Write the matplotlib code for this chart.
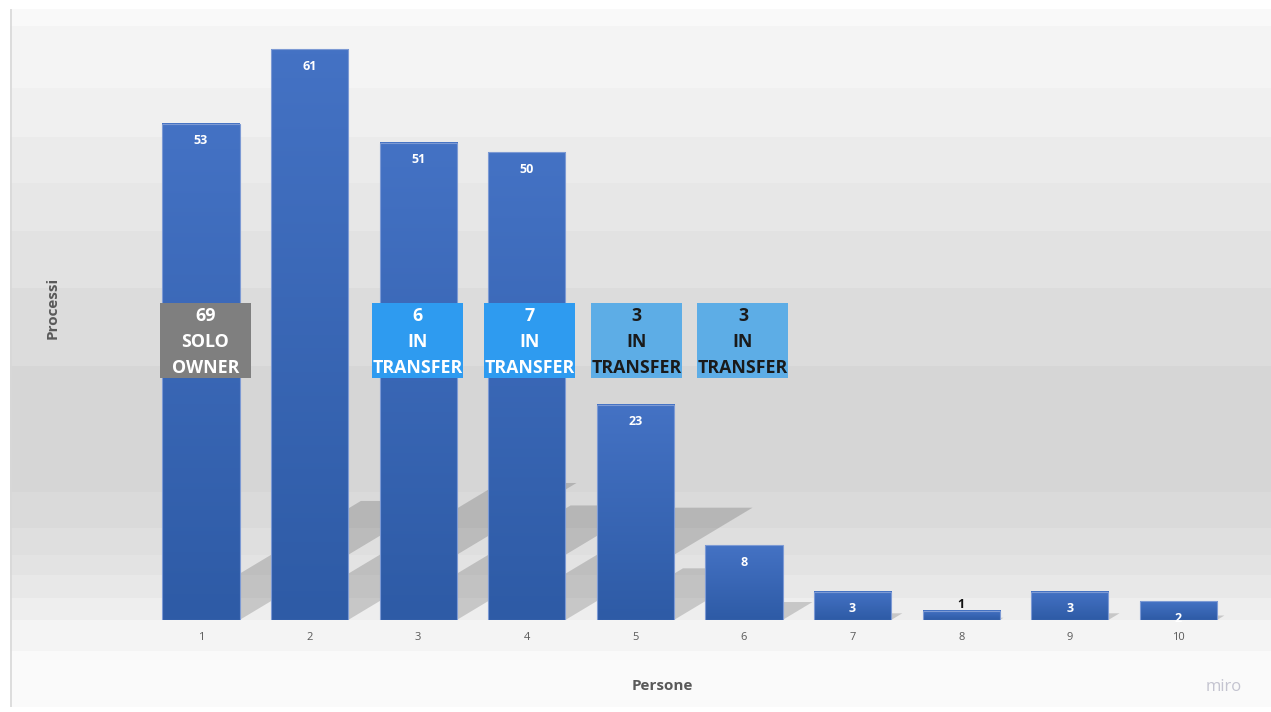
import matplotlib.pyplot as plt
import numpy as np
from matplotlib.patches import Polygon, Rectangle
from matplotlib.colors import LinearSegmentedColormap

plt.rcParams['font.family'] = ['Open Sans', 'DejaVu Sans']

# dati
persone = [1, 2, 3, 4, 5, 6, 7, 8, 9, 10]
processi = [53, 61, 51, 50, 23, 8, 3, 1, 3, 2]

box_persone = [1, 3, 4, 5, 6]
box_valori = [69, 6, 7, 3, 3]
box_testi = ['SOLO\nOWNER', 'IN\nTRANSFER', 'IN\nTRANSFER', 'IN\nTRANSFER', 'IN\nTRANSFER']
box_colori = ['#7f7f7f', '#2e9bf0', '#2e9bf0', '#5dade6', '#5dade6']
box_testo_colori = ['white', 'white', 'white', '#1a1a1a', '#1a1a1a']
box_spost = [0.04, -0.005, 0.025, 0.01, -0.01]  # piccolo spostamento orizzontale dei riquadri

# layout in pixel (immagine 1271x712)
W, H = 1271, 712
LEFT, RIGHT, TOP, BASE = 10, 1271, 9, 620
X1_PX, PX_X, PX_Y = 201, 108.6, 9.36

fig = plt.figure(figsize=(W / 100, H / 100), dpi=100)

# sfondo a bande grigie
bg = fig.add_axes([LEFT / W, (H - 707) / H, (RIGHT - LEFT) / W, (707 - TOP) / H])
bg.set_xlim(0, 1)
bg.set_ylim(707, TOP)
bande = [9, 26, 88, 137, 183, 231, 288, 366, 492, 528, 555, 575, 598, 620, 651, 707]
grigi = ['#f9f9f9', '#f4f4f4', '#f0f0f0', '#ebebeb', '#e7e7e7', '#e2e2e2', '#dcdcdc',
         '#d6d6d6', '#dadada', '#dfdfdf', '#e3e3e3', '#e8e8e8', '#eeeeee', '#f4f4f4', '#fafafa']
for y0, y1, c in zip(bande[:-1], bande[1:], grigi):
    bg.axhspan(y0, y1, color=c, lw=0)
bg.axvline(0.0008, color='#d8d8d8', lw=1.2)
bg.axis('off')

ax = fig.add_axes([LEFT / W, (H - BASE) / H, (RIGHT - LEFT) / W, (BASE - TOP) / H])
ax.patch.set_alpha(0)
xmin = 1 - (X1_PX - LEFT) / PX_X
xmax = 1 + (RIGHT - X1_PX) / PX_X
ymax = (BASE - TOP) / PX_Y

bw = 0.71
cmap = LinearSegmentedColormap.from_list('barre', ['#2e5ba6', '#4472c4'])
grad = np.linspace(0, 1, 100).reshape(-1, 1)

for x, v in zip(persone, processi):
    # ombra inclinata
    hs = 0.24 * v
    dx = hs * (PX_Y / PX_X) / 0.6
    x0, x1 = x - bw / 2, x + bw / 2
    ax.add_patch(Polygon([(x0, 0), (x1, 0), (x1 + dx, hs), (x0 + dx, hs)],
                         closed=True, fc='black', alpha=0.16, lw=0, zorder=1))
    ax.imshow(grad, extent=[x0, x1, 0, v], origin='lower', aspect='auto',
              cmap=cmap, zorder=3, interpolation='bilinear')
    ax.add_patch(Rectangle((x0, 0), bw, v, fill=False, ec='#7d9ad4', lw=0.8, zorder=4))
    if v >= 2:
        ax.annotate(str(v), (x, v), xytext=(0, -17), textcoords='offset pixels',
                    ha='center', va='center', color='white', fontsize=9,
                    fontweight='bold', zorder=6)
    else:
        ax.annotate(str(v), (x, v), xytext=(0, 6), textcoords='offset pixels',
                    ha='center', va='center', color='#111111', fontsize=9,
                    fontweight='bold', zorder=6)

# riquadri di annotazione
box_w, box_h = 91 / PX_X, 75 / PX_Y
box_cy = (BASE - 340.5) / PX_Y
for x, n, t, fc, tc, sp in zip(box_persone, box_valori, box_testi, box_colori,
                               box_testo_colori, box_spost):
    ax.add_patch(Rectangle((x + sp - box_w / 2, box_cy - box_h / 2), box_w, box_h,
                           fc=fc, ec='none', zorder=5))
    ax.text(x + sp, box_cy - 0.15, f'{n}\n{t}', ha='center', va='center', color=tc,
            fontsize=12.8, fontweight='bold', linespacing=1.55, zorder=6)

ax.set_xlim(xmin, xmax)
ax.set_ylim(0, ymax)
ax.set_xticks(persone)
ax.set_xticklabels([str(p) for p in persone], color='#595959', fontsize=8)
ax.set_yticks([])
ax.tick_params(axis='x', length=0, pad=9)
for s in ax.spines.values():
    s.set_visible(False)

ax.set_xlabel('Persone', fontsize=11, fontweight='bold', color='#595959')
ax.xaxis.set_label_coords((662 - LEFT) / (RIGHT - LEFT), (BASE - 679) / (BASE - TOP))
ax.set_ylabel('Processi', fontsize=11, fontweight='bold', color='#595959')
ax.yaxis.set_label_coords((60 - LEFT) / (RIGHT - LEFT), (BASE - 308) / (BASE - TOP))

fig.text(1224 / W, 1 - 687 / H, 'miro', ha='center', va='center', color='#c4c4d0',
         fontsize=12)

fig.savefig('out.png', dpi=100)
